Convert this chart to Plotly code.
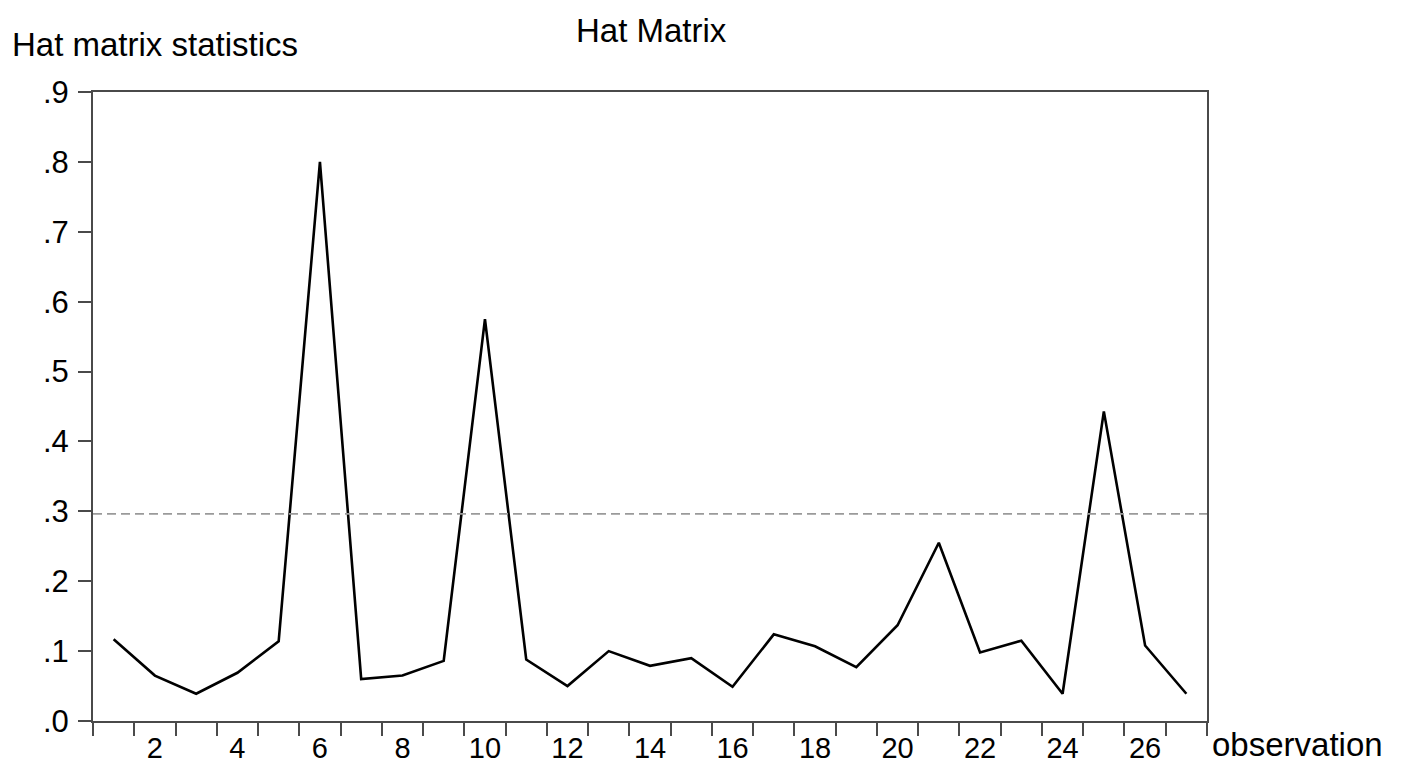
import plotly.graph_objects as go

# Data
observations = list(range(1, 28))
hat_values = [0.117, 0.065, 0.039, 0.069, 0.114, 0.800, 0.060, 0.065, 0.086,
              0.575, 0.088, 0.050, 0.100, 0.079, 0.090, 0.049, 0.124, 0.107,
              0.077, 0.137, 0.255, 0.098, 0.115, 0.039, 0.443, 0.108, 0.039]
threshold = 0.2963  # 2k/n cut-off line

x_label_vals = list(range(2, 27, 2))
x_tick_bounds = [i + 0.5 for i in range(0, 28)]
y_tick_vals = [i / 10 for i in range(0, 10)]
y_tick_text = ["." + str(i) for i in range(0, 10)]

FONT = "Liberation Sans, Arial, Helvetica, sans-serif"
AXIS_COLOR = "#4a4a4a"

fig = go.Figure()
fig.add_trace(go.Scatter(
    x=observations, y=hat_values, mode="lines",
    line=dict(color="black", width=2.6),
    showlegend=False, hoverinfo="x+y",
))
fig.add_hline(y=threshold, line=dict(color="#9a9a9a", width=1.6, dash="9px,5px"))

fig.update_layout(
    width=1408, height=763,
    margin=dict(l=93, r=201, t=92, b=42),
    paper_bgcolor="white", plot_bgcolor="white",
    font=dict(family=FONT, color="black", size=30),
    xaxis=dict(
        range=[0.5, 27.5], tickvals=x_label_vals,
        ticktext=[str(v) for v in x_label_vals],
        ticks="", showgrid=False, zeroline=False, automargin=False,
        showline=True, linecolor=AXIS_COLOR, linewidth=2, mirror=True,
        tickfont=dict(size=29), ticklabelstandoff=0,
        minor=dict(tickvals=x_tick_bounds, ticks="outside", ticklen=13,
                   tickwidth=2, tickcolor=AXIS_COLOR, showgrid=False),
    ),
    yaxis=dict(
        range=[0, 0.9], tickvals=y_tick_vals, ticktext=y_tick_text,
        ticks="outside", ticklen=13, tickwidth=2, tickcolor=AXIS_COLOR,
        showgrid=False, zeroline=False, automargin=False,
        showline=True, linecolor=AXIS_COLOR, linewidth=2, mirror=True,
        tickfont=dict(size=31), ticklabelstandoff=3,
    ),
    annotations=[
        dict(text="Hat Matrix", xref="paper", yref="paper",
             x=(651 - 93) / 1114, y=(721 - 31) / 629,
             xanchor="center", yanchor="middle", showarrow=False,
             font=dict(size=33)),
        dict(text="Hat matrix statistics", xref="paper", yref="paper",
             x=(10 - 93) / 1114, y=(721 - 44) / 629,
             xanchor="left", yanchor="middle", showarrow=False,
             font=dict(size=33)),
        dict(text="observation", xref="paper", yref="paper",
             x=(1210 - 93) / 1114, y=(721 - 744) / 629,
             xanchor="left", yanchor="middle", showarrow=False,
             font=dict(size=33)),
    ],
)

fig.write_html("out.html", config={"displayModeBar": False},
               post_script="document.body.style.margin='0';")
